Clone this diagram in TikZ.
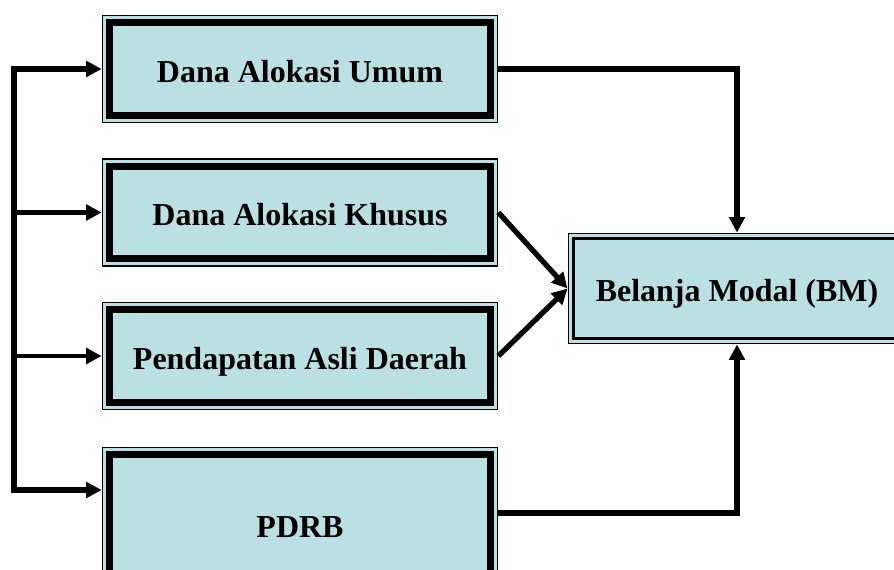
\documentclass[tikz,border=0pt]{standalone}
\usepackage{fontspec}
\setmainfont{Liberation Serif}
\usetikzlibrary{
  arrows.meta,
  positioning
}
\definecolor{boxfill}{RGB}{186,224,228}

\begin{document}
\begin{tikzpicture}[
  every node/.style={font=\fontsize{18.2}{22}\selectfont\bfseries, text height=0.58cm, text depth=0.05cm},
  factor/.style={draw, line width=1pt, fill=boxfill, minimum width=7.9cm, minimum height=2.14cm, align=center,
    path picture={\draw[line width=4.1pt]
      ([shift={(0.146,0.146)}]path picture bounding box.south west) rectangle
      ([shift={(-0.146,-0.146)}]path picture bounding box.north east);}},
  target/.style={draw, line width=1.1pt, fill=boxfill, minimum width=6.74cm, minimum height=2.2cm, align=center,
    path picture={\draw[line width=1.9pt]
      ([shift={(0.1,0.1)}]path picture bounding box.south west) rectangle
      ([shift={(-0.1,-0.1)}]path picture bounding box.north east);}},
  link/.style={line width=3pt},
  branch/.style={line width=2.4pt},
  >={Triangle[length=0.31cm,width=0.31cm]}
]
\useasboundingbox (0,0) rectangle (17.88,-11.38);

\node[factor] (dau) at (6.0, -1.38) {Dana Alokasi Umum};
\node[factor] (dak) at (6.0, -4.25) {Dana Alokasi Khusus};
\node[factor] (pad) at (6.0, -7.12) {Pendapatan Asli Daerah};
\node[factor, minimum height=3.08cm] (pdrb) at (6.0, -10.49) {PDRB};
\node[target] (bm) at (14.74, -5.77) {Belanja Modal (BM)};

% left bus
\coordinate (bus1) at (0.28, -1.38);
\coordinate (bus4) at (0.28, -9.8);
\draw[link, <->] (dau.west) -- (bus1) -- (bus4) -- (bus4 -| pdrb.west);
\draw[branch, ->] (bus1 |- dak.west) -- (dak.west);
\draw[branch, ->] (bus1 |- pad.west) -- (pad.west);

% into belanja modal
\draw[link, ->] (dau.east) -| (bm.north);
\draw[link, ->] (dak.east) -- (bm.west);
\draw[link, ->] (pad.east) -- (bm.west);
\draw[link, ->] ([yshift=0.23cm]pdrb.east) -| (bm.south);

\end{tikzpicture}
\end{document}
